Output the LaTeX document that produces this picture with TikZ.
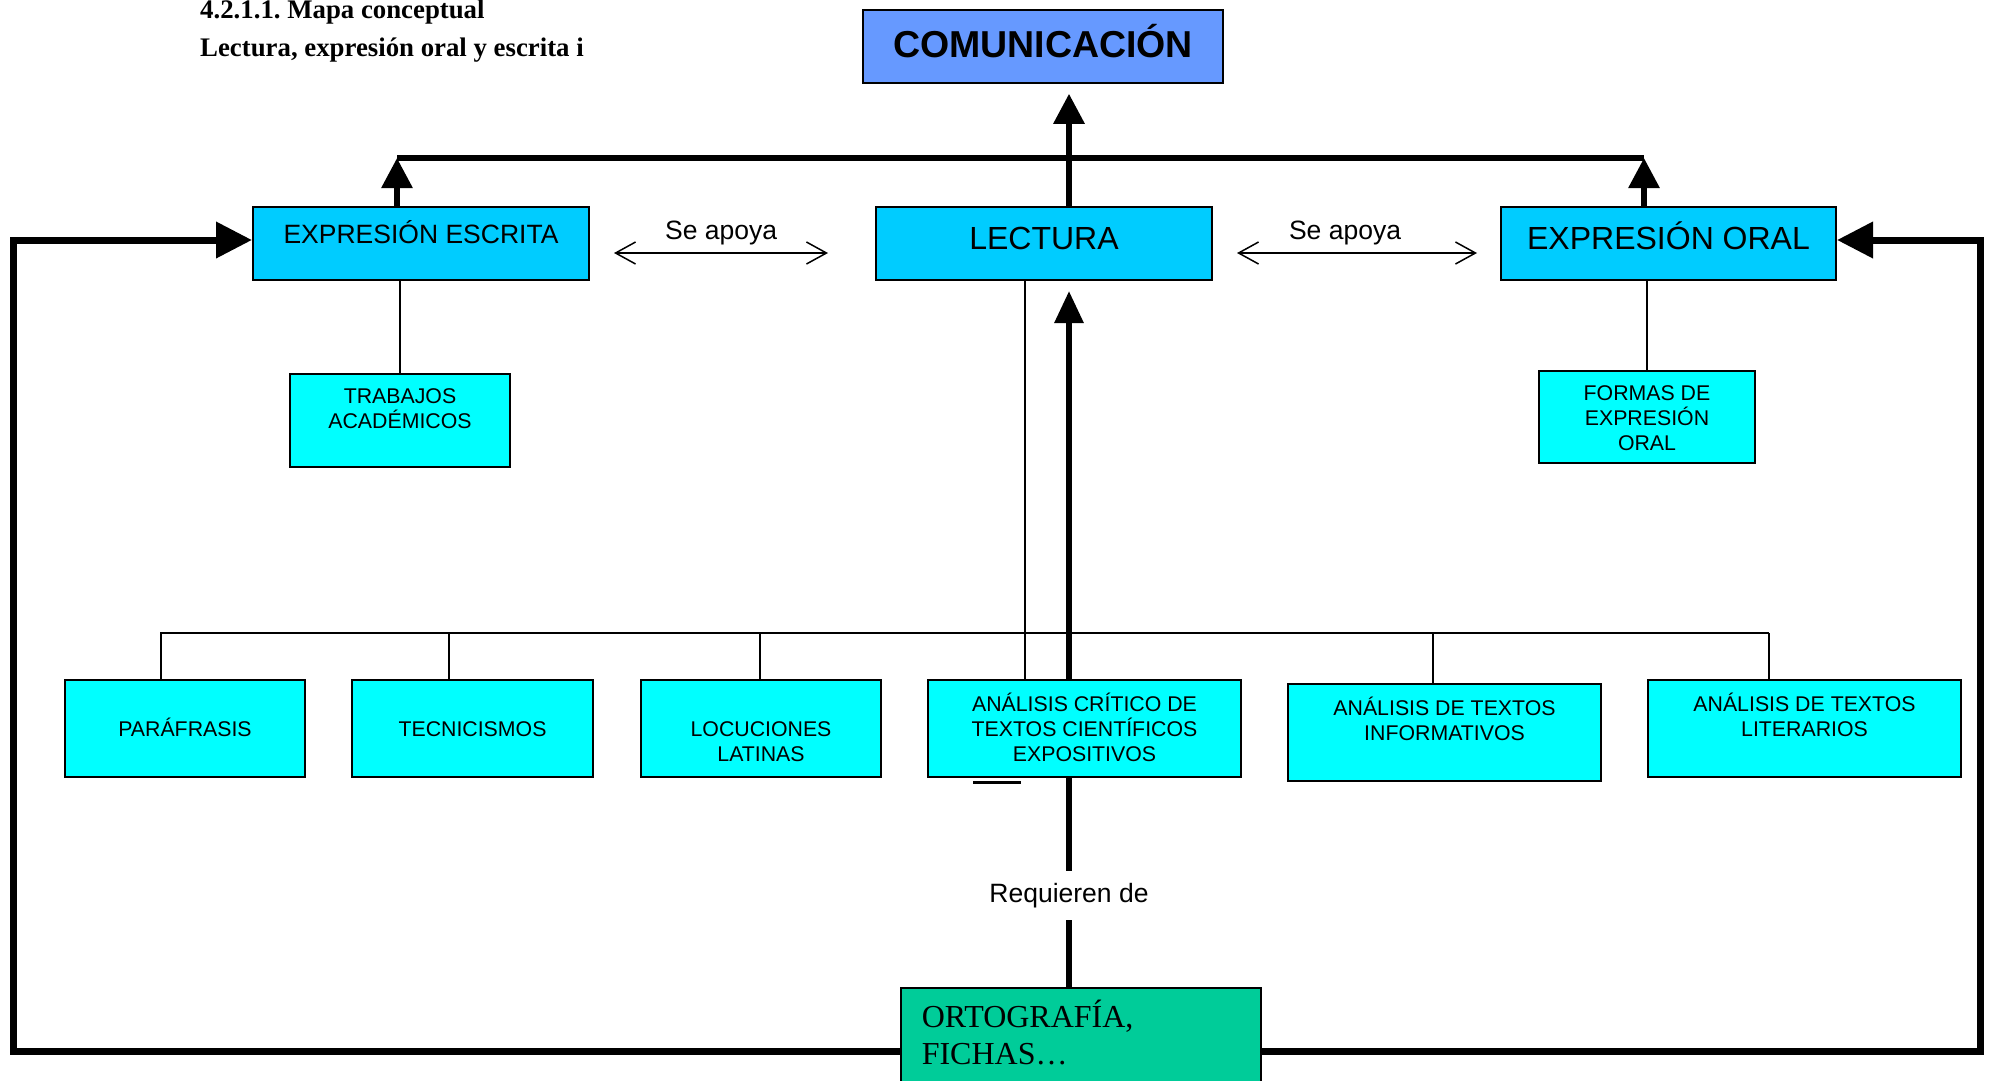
\documentclass[tikz,border=0pt]{standalone}
\usepackage{fontspec}
\setmainfont{Liberation Sans}
\newfontfamily\serifa{Liberation Serif}
\usepackage{tikz}
\usetikzlibrary{arrows.meta,backgrounds}
\definecolor{azulcom}{HTML}{6699FF}
\definecolor{celeste}{HTML}{00CCFF}
\definecolor{turquesa}{HTML}{00FFFF}
\definecolor{verdeorto}{HTML}{00CC99}
\newcommand\renglon{\rule[-4.5pt]{0pt}{25pt}}
\tikzset{
CAJA/.style={draw=black, line width=1.5pt, fill=turquesa, align=center, inner sep=0pt, minimum height=97pt, font=\fontsize{21.3}{25}\selectfont},
CAJAALTA/.style={draw=black, line width=2pt, fill=celeste, minimum width=336pt, minimum height=73pt, inner sep=0pt},
GRUESA/.style={draw=black, line width=6pt},
FINA/.style={draw=black, line width=1.5pt},
PUNTA/.style={-{Triangle[length=30pt,width=30pt]}},
PUNTALADO/.style={-{Triangle[length=36pt,width=35pt]}},
APOYO/.style={draw=black, line width=1.5pt, {Straight Barb[length=20pt,width=22pt]}-{Straight Barb[length=20pt,width=22pt]}, shorten <=24pt},
ROTULO/.style={font=\fontsize{26.5}{30}\selectfont},
TITULO/.style={anchor=base west, inner sep=0pt, font=\serifa\bfseries\fontsize{26.8}{38}\selectfont},
}
\frenchspacing
\begin{document}
\begin{tikzpicture}
[x=1pt, y=-1pt]
	\useasboundingbox (0,0) rectangle (1994,1080);
	\node[TITULO] (tit1) at (200,18) {4.2.1.1. Mapa conceptual};
	\node[TITULO] (tit2) at (200,56) {Lectura, expresión oral y escrita i};
	% upper row
	\node[CAJAALTA, fill=azulcom, minimum width=360pt, line width=1.5pt, font=\bfseries\fontsize{37.5}{44}\selectfont, text height=27pt, text depth=5pt] (comunicacion) at (1043,46.5) {COMUNICACIÓN};
	\node[CAJAALTA, font=\fontsize{26.5}{30}\selectfont, text height=10pt, text depth=10pt] (escrita) at (421,243.5) {EXPRESIÓN ESCRITA};
	\node[CAJAALTA, font=\fontsize{32}{36}\selectfont, text height=18pt, text depth=6pt] (lectura) at (1044,243.5) {LECTURA};
	\node[CAJAALTA, minimum width=335pt, font=\fontsize{32}{36}\selectfont, text height=18pt, text depth=6pt] (oral) at (1668.5,243.5) {EXPRESIÓN ORAL};
	\node[CAJA, minimum width=220pt, minimum height=93pt] (trabajos) at (400,420.5) {\renglon TRABAJOS\\\renglon ACADÉMICOS\\\renglon};
	\node[CAJA, minimum width=216pt, minimum height=92pt] (formas) at (1647,417) {\renglon FORMAS DE\\\renglon EXPRESIÓN\\\renglon ORAL};
	% lower row
	\node[CAJA, minimum width=240pt] (parafrasis) at (185,728.5) {\renglon PARÁFRASIS};
	\node[CAJA, minimum width=241pt] (tecnicismos) at (472.5,728.5) {\renglon TECNICISMOS};
	\node[CAJA, minimum width=240pt] (locuciones) at (761,728.5) {\renglon\\\renglon LOCUCIONES\\\renglon LATINAS};
	\node[CAJA, minimum width=313pt] (critico) at (1084.5,728.5) {\renglon ANÁLISIS CRÍTICO DE\\\renglon TEXTOS CIENTÍFICOS\\\renglon EXPOSITIVOS};
	\node[CAJA, minimum width=313pt] (informativos) at (1444.5,732.5) {\renglon ANÁLISIS DE TEXTOS\\\renglon INFORMATIVOS\\\renglon};
	\node[CAJA, minimum width=313pt] (literarios) at (1804.5,728.5) {\renglon ANÁLISIS DE TEXTOS\\\renglon LITERARIOS\\\renglon};
	\node[draw=black, line width=1.5pt, fill=verdeorto, anchor=north west, minimum width=360pt, minimum height=101pt, text width=318pt, inner xsep=21pt, inner ysep=0pt, align=left, font=\serifa\fontsize{32}{37}\selectfont] (ortografia) at (900,987) {\strut ORTOGRAFÍA,\\\strut FICHAS…};
	\begin{pgfonlayer}{background}
	\coordinate (eje) at (1069,0);
	\coordinate (linea) at (1025,0);
	\coordinate (busE) at (397,158);
	\coordinate (busO) at (1644,158);
	\coordinate (busI) at (160,633);
	\coordinate (busD) at (1769,633);
	\coordinate (esqSI) at (13,1051);
	\coordinate (esqNI) at (13,240);
	\coordinate (esqSD) at (1980,1051);
	\coordinate (esqND) at (1980,240);
	\draw[GRUESA, PUNTA, shorten >=10pt] (lectura.north -| eje) -- (comunicacion.south -| eje);
	\draw[GRUESA] (busE) -- (busO);
	\draw[GRUESA, PUNTA] (escrita.north -| busE) -- (busE);
	\draw[GRUESA, PUNTA] (oral.north -| busO) -- (busO);
	\draw[APOYO, shorten >=47pt] ([yshift=-9.5pt]escrita.east) -- node[pos=0.46, above=4pt, ROTULO] (apoyo1) {Se apoya} ([yshift=-9.5pt]lectura.west);
	\draw[APOYO, shorten >=23pt] ([yshift=-9.5pt]lectura.east) -- node[pos=0.46, above=4pt, ROTULO] (apoyo2) {Se apoya} ([yshift=-9.5pt]oral.west);
	\draw[FINA] (escrita.south -| trabajos.north) -- (trabajos.north);
	\draw[FINA] (oral.south -| formas.north) -- (formas.north);
	\draw[FINA] (lectura.south -| linea) -- (critico.north -| linea);
	\draw[FINA] (busI) -- (busD);
	\foreach \n/\x in {parafrasis/161, tecnicismos/449, locuciones/760, informativos/1433, literarios/1769}
		\draw[FINA] (\x,633) -- (\n.north -| \x,633);
	\draw[GRUESA, -{Triangle[length=32pt,width=28pt]}, shorten >=10pt] (ortografia.north -| eje) -- node[pos=0.13, fill=white, inner ysep=12pt, ROTULO] (requieren) {Requieren de} (lectura.south -| eje);
	\draw[GRUESA, line width=7pt, PUNTALADO] (ortografia.west |- esqSI) -- (esqSI) -- (esqNI) -- (escrita.west |- esqNI);
	\draw[GRUESA, line width=7pt, PUNTALADO] (ortografia.east |- esqSD) -- (esqSD) -- (esqND) -- (oral.east |- esqND);
	\draw[line width=3pt] (973,782) -- (1021,782);
	\end{pgfonlayer}
\end{tikzpicture}
\end{document}
